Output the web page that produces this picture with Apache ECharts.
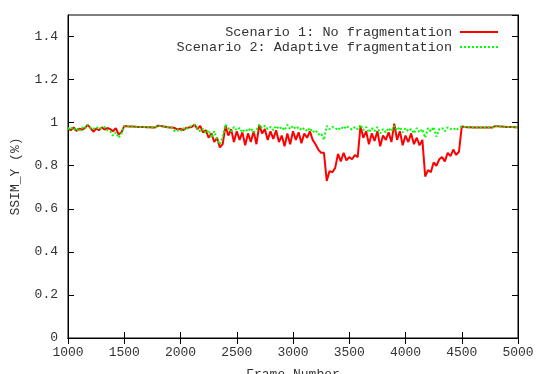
<!DOCTYPE html>
<html>
<head>
<meta charset="utf-8">
<script src="https://cdn.jsdelivr.net/npm/echarts@6/dist/echarts.min.js"></script>
<style>
html,body{margin:0;padding:0;background:#fff;}
#c{width:539px;height:374px;}
</style>
</head>
<body>
<div id="c"></div>
<script>
// Sample frames: every 25 frames from 1000 to 5000
const FRAME_START = 1000;
const FRAME_STEP = 25;

const seriesNames = ['Scenario 1: No fragmentation', 'Scenario 2: Adaptive fragmentation'];

// Scenario 1 (red)
const s1 = [
  0.975,0.965,0.978,0.962,0.972,0.968,0.975,
  0.99,
  0.975,0.958,0.972,0.965,
  0.978,0.968,0.975,0.97,
  0.96,0.975,0.945,0.955,
  0.985,
  0.983,0.982,0.982,0.981,0.98,0.98,0.98,0.979,0.979,0.978,0.978,
  0.986,
  0.984,0.982,0.98,0.978,0.978,0.975,0.968,
  0.972,0.965,0.975,0.978,0.98,
  0.992,
  0.97,0.985,0.955,
  0.965,0.93,0.95,0.91,0.93,0.885,0.9,
  0.985,
  0.94,0.97,0.91,0.96,0.92,0.955,0.895,0.95,0.91,0.96,0.9,
  0.99,
  0.95,0.97,0.92,0.96,0.925,0.965,0.91,
  0.94,0.89,0.95,0.9,
  0.96,0.92,0.955,0.905,0.95,0.93,0.96,0.92,
  0.9,0.875,0.86,
  0.86,
  0.73,0.775,0.77,0.79,0.855,0.82,0.86,0.825,0.84,0.83,0.85,0.84,
  0.985,
  0.93,0.96,0.9,0.95,0.915,0.96,0.89,0.94,0.92,0.955,0.91,
  0.995,
  0.92,0.96,0.895,0.94,0.91,0.95,0.9,0.93,0.895,0.92,
  0.75,
  0.78,0.77,0.815,0.8,0.83,0.84,0.82,0.86,0.845,0.875,0.85,0.865,
  0.982,
  0.98,0.979,0.979,0.978,0.978,0.978,0.977,0.977,0.977,0.977,0.978,
  0.985,
  0.983,0.982,0.981,0.98,0.98,0.98,0.979,0.979
];

// Scenario 2 (green)
const s2 = [
  0.97,0.98,0.965,0.975,0.96,0.978,0.97,
  0.99,
  0.975,0.97,0.98,0.972,
  0.975,0.98,0.965,0.96,
  0.94,0.955,0.93,0.95,
  0.985,
  0.983,0.982,0.982,0.981,0.98,0.98,0.98,0.979,0.979,0.978,0.978,
  0.986,
  0.984,0.982,0.98,0.978,0.975,0.96,0.965,
  0.96,0.975,0.968,0.98,0.985,
  0.99,
  0.975,0.96,0.97,
  0.95,0.965,0.93,0.96,0.92,0.9,0.935,
  0.99,
  0.975,0.96,0.98,0.965,0.975,0.955,0.97,0.96,0.975,0.955,0.965,
  0.99,
  0.975,0.985,0.97,0.98,0.965,0.985,0.97,
  0.98,0.965,0.99,0.97,
  0.985,0.97,0.98,0.965,0.975,0.96,0.975,0.955,
  0.965,0.945,0.95,
  0.92,
  0.985,0.97,0.98,0.975,0.965,0.98,0.97,0.985,0.975,0.968,0.98,0.97,
  0.99,
  0.965,0.98,0.955,0.975,0.96,0.98,0.95,0.97,0.955,0.975,0.96,
  0.985,
  0.965,0.98,0.955,0.975,0.96,0.97,0.95,0.975,0.955,0.97,
  0.93,
  0.975,0.96,0.98,0.935,0.97,0.975,0.96,0.978,0.97,0.975,0.965,0.975,
  0.982,
  0.98,0.979,0.979,0.978,0.978,0.978,0.977,0.977,0.977,0.977,0.978,
  0.985,
  0.983,0.982,0.981,0.98,0.98,0.98,0.979,0.979
];

const xTicks = {min: 1000, max: 5000, interval: 500};
const yTicks = {min: 0, max: 1.5, interval: 0.2};

function pairs(vals){
  return vals.map((v,i)=>[FRAME_START + FRAME_STEP*i, v]);
}

const FONT = 'Liberation Mono';
const RED = '#ff0000';
const GREEN = '#00ff00';
const chart = echarts.init(document.getElementById('c'));

const tickStyle = {show:true, inside:true, length:6, lineStyle:{color:'#000', width:1}};

// legend icons: solid bar and short-dash bar
const solidIcon = 'path://M0,0h38v2h-38z';
let dashPath = 'path://';
for (let k = 0; k < 10; k++) dashPath += 'M' + (k*4) + ',0h2v2h-2z';
dashPath += 'M38,0h0.01v2h-0.01z';

const legendText = {fontFamily:FONT, fontSize:13.5, color:'#333', padding:[0,3,0,0]};

chart.setOption({
  animation:false,
  backgroundColor:'#fff',
  grid:{left:68, right:21, top:15, bottom:36, show:true, borderColor:'#000', borderWidth:1,
        outerBoundsMode:'none', containLabel:false},
  legend:[
    {data:[{name:seriesNames[0], icon:solidIcon}], right:36, top:20, align:'right',
     itemWidth:38, itemHeight:2, textStyle:legendText},
    {data:[{name:seriesNames[1], icon:dashPath}], right:36, top:35, align:'right',
     itemWidth:38, itemHeight:2, textStyle:legendText}
  ],
  xAxis:[
    {type:'value', min:xTicks.min, max:xTicks.max, interval:xTicks.interval, position:'bottom',
     name:'Frame Number', nameLocation:'middle', nameGap:30,
     nameTextStyle:{fontFamily:FONT, fontSize:13, color:'#333'},
     axisLine:{show:true, lineStyle:{color:'#000', width:1}},
     axisTick:tickStyle, splitLine:{show:false},
     axisLabel:{fontFamily:FONT, fontSize:13, color:'#333', margin:8,
                formatter:(v)=>String(v)}},
    {type:'value', min:xTicks.min, max:xTicks.max, interval:xTicks.interval, position:'top',
     axisLine:{show:true, lineStyle:{color:'#000'}}, axisTick:tickStyle,
     axisLabel:{show:false}, splitLine:{show:false}}
  ],
  yAxis:[
    {type:'value', min:yTicks.min, max:yTicks.max, interval:yTicks.interval, position:'left',
     name:'SSIM_Y (%)', nameLocation:'middle', nameGap:46,
     nameTextStyle:{fontFamily:FONT, fontSize:13, color:'#333'},
     axisLine:{show:true, lineStyle:{color:'#000', width:1}},
     axisTick:tickStyle, splitLine:{show:false},
     axisLabel:{fontFamily:FONT, fontSize:13, color:'#333', margin:10, showMaxLabel:false,
                formatter:(v)=>String(Math.round(v*10)/10)}},
    {type:'value', min:yTicks.min, max:yTicks.max, interval:yTicks.interval, position:'right',
     axisLine:{show:true, lineStyle:{color:'#000'}}, axisTick:tickStyle,
     axisLabel:{show:false}, splitLine:{show:false}}
  ],
  series:[
    {name:seriesNames[0], type:'line', data:pairs(s1), showSymbol:false, symbol:'none',
     lineStyle:{color:RED, width:2}, itemStyle:{color:RED}},
    {name:seriesNames[1], type:'line', data:pairs(s2), showSymbol:false, symbol:'none',
     lineStyle:{color:GREEN, width:2, type:[2,2]}, itemStyle:{color:GREEN}}
  ]
});
</script>
</body>
</html>
